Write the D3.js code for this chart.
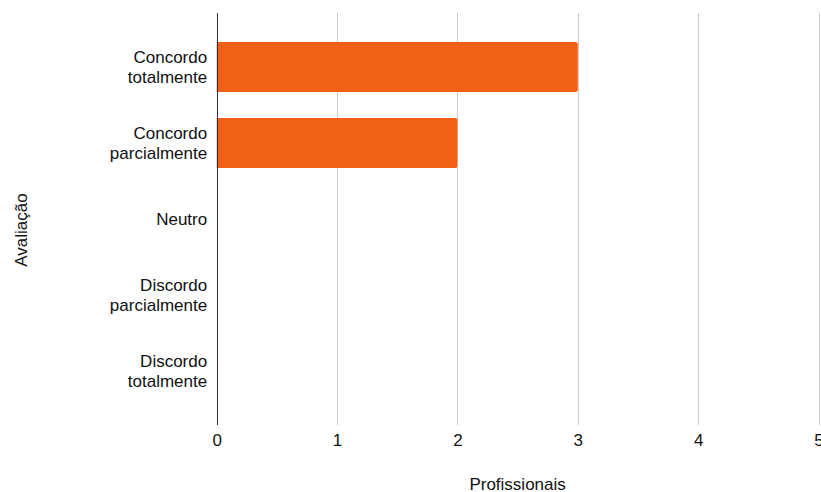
<!DOCTYPE html>
<html>
<head>
<meta charset="utf-8">
<script src="https://cdn.jsdelivr.net/npm/d3@7/dist/d3.min.js"></script>
<style>
  body { margin: 0; background: #fff; }
  svg text { font-family: "Liberation Sans", Arial, Helvetica, sans-serif; fill: #111; }
</style>
</head>
<body>
<div id="chart"></div>
<script>
'use strict';

var categories = [
  ['Concordo', 'totalmente'],
  ['Concordo', 'parcialmente'],
  ['Neutro'],
  ['Discordo', 'parcialmente'],
  ['Discordo', 'totalmente']
];
var values = [3, 2, 0, 0, 0];
var xTicks = [0, 1, 2, 3, 4, 5];

var W = 821, H = 492;
var margin = { top: 13, right: 2.5, bottom: 67, left: 216.7 };

var svg = d3.select('#chart')
  .append('svg')
  .attr('width', W)
  .attr('height', H);

var keys = categories.map(function (c) { return c.join(' '); });

var x = d3.scaleLinear()
  .domain([0, 5])
  .range([margin.left, W - margin.right]);

var y = d3.scaleBand()
  .domain(keys)
  .range([margin.top, H - margin.bottom])
  .paddingInner(0.342)
  .paddingOuter(0.382);

// gridlines
svg.append('g')
  .selectAll('line')
  .data(xTicks.slice(1))
  .enter()
  .append('line')
  .attr('x1', function (d) { return Math.round(x(d)) + 0.5; })
  .attr('x2', function (d) { return Math.round(x(d)) + 0.5; })
  .attr('y1', margin.top)
  .attr('y2', H - margin.bottom)
  .attr('stroke', '#cccccc')
  .attr('stroke-width', 1);

// bars
svg.append('g')
  .selectAll('path')
  .data(values.map(function (v, i) { return { key: keys[i], value: v }; })
    .filter(function (d) { return d.value > 0; }))
  .enter()
  .append('path')
  .attr('fill', '#f06115')
  .attr('d', function (d) {
    var x0 = x(0), x1 = x(d.value), y0 = y(d.key), h = y.bandwidth(), r = 2;
    return 'M' + x0 + ',' + y0 +
      'H' + (x1 - r) + 'Q' + x1 + ',' + y0 + ' ' + x1 + ',' + (y0 + r) +
      'V' + (y0 + h - r) + 'Q' + x1 + ',' + (y0 + h) + ' ' + (x1 - r) + ',' + (y0 + h) +
      'H' + x0 + 'Z';
  });

// x axis labels
var xAxis = d3.axisBottom(x)
  .tickValues(xTicks)
  .tickSize(0)
  .tickPadding(0)
  .tickFormat(d3.format('d'));

var gx = svg.append('g')
  .attr('transform', 'translate(0,' + (H - margin.bottom) + ')')
  .call(xAxis);
gx.select('.domain').remove();
gx.selectAll('text')
  .attr('y', 21)
  .attr('dy', null)
  .attr('font-size', 17)
  .attr('fill', '#111');

// y axis: baseline at zero
svg.append('line')
  .attr('x1', Math.round(x(0)) + 0.5)
  .attr('x2', Math.round(x(0)) + 0.5)
  .attr('y1', margin.top)
  .attr('y2', H - margin.bottom)
  .attr('stroke', '#333')
  .attr('stroke-width', 1);

// category labels (multi-line)
var lineH = 19.5;
svg.append('g')
  .selectAll('text')
  .data(categories)
  .enter()
  .append('text')
  .attr('text-anchor', 'end')
  .attr('font-size', 17)
  .attr('transform', function (d, i) {
    var cy = y(keys[i]) + y.bandwidth() / 2;
    return 'translate(' + (x(0) - 9.5) + ',' + cy + ')';
  })
  .each(function (d) {
    var t = d3.select(this);
    var off = -(d.length - 1) * lineH / 2;
    d.forEach(function (line, j) {
      t.append('tspan')
        .attr('x', 0)
        .attr('y', off + j * lineH)
        .attr('dy', '0.35em')
        .text(line);
    });
  });

// axis titles
svg.append('text')
  .attr('x', (x(0) + x(5)) / 2)
  .attr('y', 490)
  .attr('text-anchor', 'middle')
  .attr('font-size', 17)
  .text('Profissionais');

svg.append('text')
  .attr('transform', 'translate(27,230) rotate(-90)')
  .attr('text-anchor', 'middle')
  .attr('font-size', 17)
  .text('Avaliação');
</script>
</body>
</html>
